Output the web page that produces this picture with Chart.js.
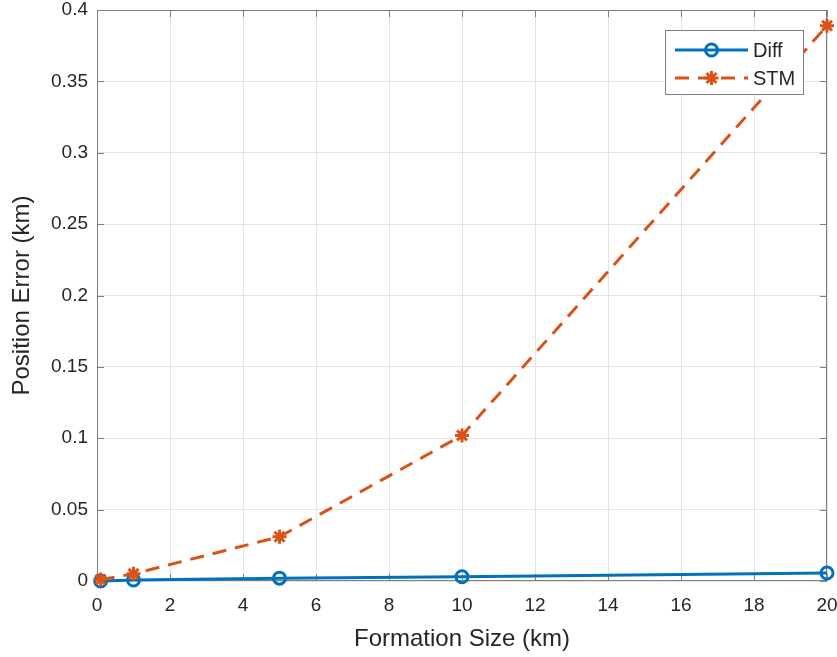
<!DOCTYPE html>
<html lang="en">
<head>
<meta charset="UTF-8" />
<title>Position Error vs Formation Size</title>
<script src="https://cdn.jsdelivr.net/npm/chart.js@4.4.1/dist/chart.umd.min.js"></script>
<style>
  html, body { margin: 0; padding: 0; background: #fff; }
</style>
</head>
<body>
<canvas id="errorChart" width="837" height="657"></canvas>
<script>
// values
const formationSize = [0.1, 1, 5, 10, 20];
const diffError = [0, 0.0007, 0.002, 0.003, 0.0056];
const stmError = [0.001, 0.005, 0.031, 0.102, 0.389];
const seriesNames = ["Diff", "STM"];

const blue = "#0072BD";
const orange = "#D95319";
const axisColor = "#7f7f7f";
const textColor = "#262626";
const fontFamily = "'Liberation Sans', Arial, Helvetica, sans-serif";

const toPoints = (ys) => formationSize.map((x, i) => ({ x: x, y: ys[i] }));

// MATLAB-like box with inward ticks
const boxPlugin = {
  id: "box",
  beforeDatasetsDraw(chart) {
    const { ctx, chartArea: a, scales } = chart;
    ctx.save();
    ctx.strokeStyle = axisColor;
    ctx.lineWidth = 1;
    ctx.strokeRect(a.left + 0.5, a.top + 0.5, a.right - a.left - 1, a.bottom - a.top - 1);
    ctx.beginPath();
    for (const t of scales.x.ticks) {
      const px = Math.round(scales.x.getPixelForValue(t.value)) + 0.5;
      ctx.moveTo(px, a.bottom); ctx.lineTo(px, a.bottom - 7);
      ctx.moveTo(px, a.top); ctx.lineTo(px, a.top + 7);
    }
    for (const t of scales.y.ticks) {
      const py = Math.round(scales.y.getPixelForValue(t.value)) + 0.5;
      ctx.moveTo(a.left, py); ctx.lineTo(a.left + 7, py);
      ctx.moveTo(a.right, py); ctx.lineTo(a.right - 7, py);
    }
    ctx.stroke();
    ctx.restore();
  },
};

// legend box inside the plot, top right
const insideLegend = {
  id: "insideLegend",
  afterDraw(chart) {
    const { ctx, chartArea: a } = chart;
    const w = 138, h = 64;
    const bx = a.right - 24 - w, by = a.top + 20;
    ctx.save();
    ctx.fillStyle = "#fff";
    ctx.fillRect(bx, by, w, h);
    ctx.strokeStyle = axisColor;
    ctx.lineWidth = 1;
    ctx.strokeRect(bx + 0.5, by + 0.5, w, h);

    chart.data.datasets.forEach((ds, i) => {
      const y = by + 20 + i * 28;
      const x0 = bx + 10, x1 = bx + 83;
      ctx.strokeStyle = ds.borderColor;
      ctx.lineWidth = ds.borderWidth;
      ctx.setLineDash(ds.borderDash || []);
      ctx.beginPath();
      ctx.moveTo(x0, y); ctx.lineTo(x1, y);
      ctx.stroke();
      ctx.setLineDash([]);
      ctx.fillStyle = ds.pointBackgroundColor;
      ctx.strokeStyle = ds.borderColor;
      Chart.helpers.drawPoint(ctx, {
        pointStyle: ds.pointStyle,
        radius: ds.pointRadius,
        borderWidth: ds.pointBorderWidth,
        rotation: 0,
      }, (x0 + x1) / 2, y);
      ctx.fillStyle = textColor;
      ctx.font = "20px " + fontFamily;
      ctx.textBaseline = "middle";
      ctx.fillText(ds.label, x1 + 5, y + 1);
    });
    ctx.restore();
  },
};

new Chart(document.getElementById("errorChart"), {
  type: "line",
  data: {
    datasets: [
      {
        label: seriesNames[0],
        data: toPoints(diffError),
        borderColor: blue,
        borderWidth: 3,
        pointStyle: "circle",
        pointRadius: 6,
        pointBorderWidth: 3,
        pointBackgroundColor: "rgba(255,255,255,0)",
        pointBorderColor: blue,
        tension: 0,
        clip: false,
        order: 1,
      },
      {
        label: seriesNames[1],
        data: toPoints(stmError),
        borderColor: orange,
        borderWidth: 3,
        borderDash: [14, 9],
        pointStyle: "star",
        pointRadius: 7,
        pointBorderWidth: 3,
        pointBackgroundColor: orange,
        pointBorderColor: orange,
        tension: 0,
        clip: false,
        order: 0,
      },
    ],
  },
  options: {
    responsive: false,
    animation: false,
    layout: { padding: { top: 7, right: 10, left: 0, bottom: 0 } },
    plugins: {
      legend: { display: false },
      tooltip: { enabled: false },
    },
    scales: {
      x: {
        type: "linear",
        min: 0,
        max: 20,
        afterFit: (scale) => {
          scale.height = 76;
          scale.paddingLeft = 0;
          scale.paddingRight = 0;
        },
        ticks: {
          stepSize: 2,
          color: textColor,
          padding: 13,
          maxRotation: 0,
          font: { family: fontFamily, size: 19 },
        },
        grid: { color: "#e3e3e3", drawTicks: false },
        border: { display: false },
        title: {
          display: true,
          text: "Formation Size (km)",
          color: textColor,
          padding: { top: 0, bottom: 3 },
          font: { family: fontFamily, size: 24 },
        },
      },
      y: {
        min: 0,
        max: 0.4,
        afterFit: (scale) => {
          scale.width = 97;
          scale.paddingTop = 0;
          scale.paddingBottom = 0;
        },
        ticks: {
          stepSize: 0.05,
          color: textColor,
          padding: 9,
          font: { family: fontFamily, size: 19 },
          callback: (v) => String(+v.toFixed(2)),
        },
        grid: { color: "#e3e3e3", drawTicks: false },
        border: { display: false },
        title: {
          display: true,
          text: "Position Error (km)",
          color: textColor,
          padding: { top: 8, bottom: 0 },
          font: { family: fontFamily, size: 24 },
        },
      },
    },
  },
  plugins: [boxPlugin, insideLegend],
});
</script>
</body>
</html>
